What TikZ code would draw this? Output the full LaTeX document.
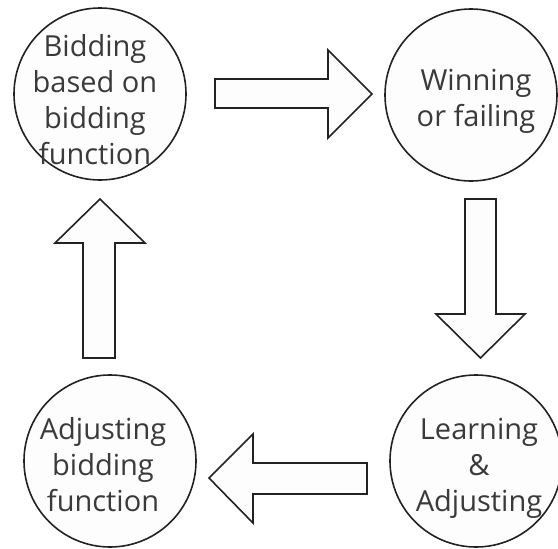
\documentclass[tikz,border=0pt]{standalone}
\usepackage{fontspec}
\setmainfont{Open Sans}
\definecolor{linec}{HTML}{222222}
\definecolor{textc}{HTML}{3A3A3A}
\definecolor{fillc}{HTML}{FDFDFD}
\begin{document}
\begin{tikzpicture}[x=1pt,y=-1pt,
  stage/.style={circle,draw=linec,line width=1.6pt,fill=fillc,minimum size=172pt,inner sep=0pt},
  stagetext/.style={text=textc,align=center,inner sep=0pt,font=\fontsize{29}{36}\selectfont},
  blockarrow/.style={draw=linec,line width=1.6pt,fill=fillc,line join=miter}]
\useasboundingbox (0,0) rectangle (558,549);
\node[stage] (bid) at (100,94) {};
\node[stage] (win) at (471,95) {};
\node[stage] (learn) at (476,461) {};
\node[stage] (adj) at (110,461) {};
\node[stagetext] (bidt) at (95,100) {Bidding\\based on\\bidding\\function};
\node[stagetext] (wint) at (476,101) {Winning\\or failing};
\node[stagetext] (learnt) at (479,468) {Learning\\\&\\Adjusting};
\node[stagetext] (adjt) at (103,465) {Adjusting\\bidding\\function};
% right arrow
\draw[blockarrow] (215,79) -- (328,79) -- (328,50) -- (372,94) -- (328,138) -- (328,108) -- (215,108) -- cycle;
% down arrow
\draw[blockarrow] (465,199) -- (496,199) -- (496,314) -- (525,314) -- (480.5,358) -- (436,314) -- (465,314) -- cycle;
% left arrow
\draw[blockarrow] (367,463) -- (253,463) -- (253,434) -- (209,478) -- (253,523) -- (253,494) -- (367,494) -- cycle;
% up arrow
\draw[blockarrow] (83,358) -- (83,243) -- (55,243) -- (100,199) -- (145,243) -- (115,243) -- (115,358) -- cycle;
\end{tikzpicture}
\end{document}
